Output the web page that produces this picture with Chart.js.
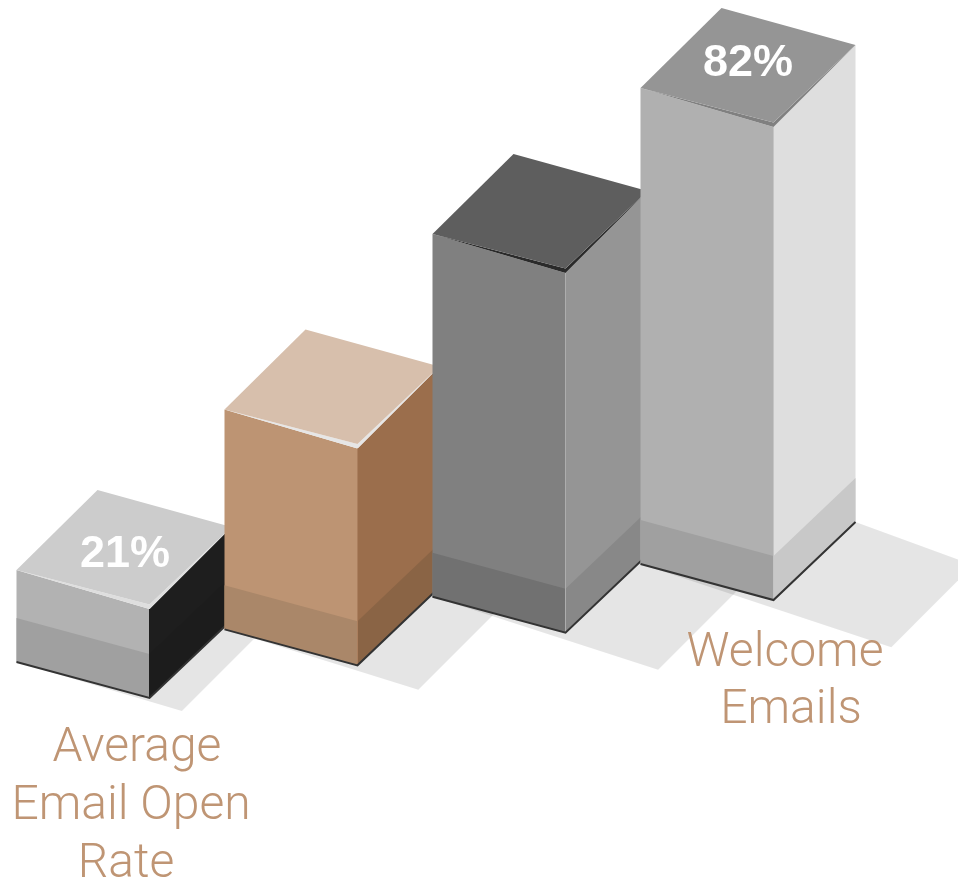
<!DOCTYPE html>
<html>
<head>
<meta charset="utf-8">
<title>Email rates</title>
<script src="https://cdn.jsdelivr.net/npm/chart.js@4"></script>
<style>
html,body{margin:0;padding:0;background:#fff;overflow:hidden}
#wrap{position:relative;width:958px;height:879px}
</style>
</head>
<body>
<div id="wrap"><canvas id="rateChart"></canvas></div>
<script>
const categories=[['Average','Email Open','Rate'],[''],[''],['Welcome','Emails']];
const rates=[21,41.3,64,82];
const showValue=[true,false,false,true];
const showCategory=[true,false,false,true];
const AXIS_MIN=6.86;

// face colours per bar
const topColors=['#cccccc','#d7bfac','#5e5e5e','#959595'];
const lipColors=['#dedede','#e6e6e6','#2a2a2a','#808080'];
const frontColors=['#b2b2b2','#bd9473','#808080','#b0b0b0'];
const frontBandColors=['#a0a0a0','#aa8769','#717171','#a0a0a0'];
const sideColors=['#1e1e1e','#9b6e4c','#959595','#dedede'];
const sideBandColors=['#1c1c1c','#8a6445','#888888','#c8c8c8'];
const seamColors=['#1e1e1e','#ab7f5e','#adadad','#c4c4c4'];

const GROUND_RISE=0.157;   // baseline climbs to the right
const BAND_H=44;
const LIP_H=4.5;

function poly(ctx,color,pts){
ctx.beginPath();
pts.forEach((p,i)=>i?ctx.lineTo(p[0],p[1]):ctx.moveTo(p[0],p[1]));
ctx.closePath();
ctx.fillStyle=color;
ctx.fill();
}

// turn a bar element into the corner points of its box
function boxOf(el,firstX){
const shift=(el.x-firstX)*GROUND_RISE;
const l=el.x-el.width/2,f=el.x+el.width/2,r=f+82;
const by=el.base-shift,ty=el.y-shift;
return{l,f,r,by,ty,
lb:[l,by-36],fb:[f,by],rb:[r,by-78],
lt:[l,ty-39],ft:[f,ty],rt:[r,ty-82],bt:[l+81,ty-39-80]};
}

// ground shadow, longer for taller bars
function drawShadow(ctx,b,value){
const dx=value*1.4+3,dy=dx*0.4;
const far=[b.fb[0]+dx,b.fb[1]+dy];
poly(ctx,'rgba(0,0,0,0.1)',[b.lb,far,[far[0]+82,far[1]-82],b.rb]);
}

function drawBox(ctx,b,i){
poly(ctx,frontColors[i],[b.lt,b.ft,b.fb,b.lb]);
poly(ctx,sideColors[i],[b.ft,b.rt,b.rb,b.fb]);
poly(ctx,frontBandColors[i],[[b.l,b.lb[1]-BAND_H],[b.f,b.by-BAND_H],b.fb,b.lb]);
poly(ctx,sideBandColors[i],[[b.f,b.by-BAND_H],[b.r,b.rb[1]-BAND_H],b.rb,b.fb]);
poly(ctx,lipColors[i],[b.lt,b.ft,b.rt,[b.f,b.ty-LIP_H]]);
poly(ctx,topColors[i],[b.lt,[b.f,b.ty-LIP_H],b.rt,b.bt]);
// corner seam
ctx.strokeStyle=seamColors[i];
ctx.lineWidth=1;
ctx.beginPath();ctx.moveTo(b.f,b.ty);ctx.lineTo(b.f,b.by);ctx.stroke();
// dark edge along the ground
ctx.strokeStyle='#333333';
ctx.lineWidth=2;
ctx.beginPath();ctx.moveTo(b.lb[0],b.lb[1]);ctx.lineTo(b.fb[0],b.fb[1]);ctx.lineTo(b.rb[0],b.rb[1]);ctx.stroke();
}

const isoBars={
id:'isoBars',
beforeDatasetDraw(chart,args){
const ctx=chart.ctx,els=args.meta.data,firstX=els[0].x;
const boxes=els.map(el=>boxOf(el,firstX));
ctx.save();
boxes.forEach((b,i)=>drawShadow(ctx,b,rates[i]));
boxes.forEach((b,i)=>drawBox(ctx,b,i));
// value on the top face
ctx.fillStyle='#ffffff';
ctx.font='bold 45px "Liberation Sans"';
ctx.textAlign='center';
ctx.textBaseline='middle';
const valueDx=[1,0,0,0],valueDy=[6,0,0,-3];
boxes.forEach((b,i)=>{
if(!showValue[i])return;
ctx.fillText(rates[i]+'%',(b.lt[0]+b.rt[0])/2+valueDx[i],(b.lt[1]+b.rt[1])/2+valueDy[i]);
});
// category names, one line at a time
ctx.fillStyle='#bf9574';
ctx.font='300 48px Roboto';
ctx.textBaseline='alphabetic';
const nameSpots=[[[137,761],[131,819],[126,877]],null,null,[[785,666],[791,723]]];
categories.forEach((lines,i)=>{
if(!showCategory[i])return;
lines.forEach((t,j)=>ctx.fillText(t,nameSpots[i][j][0],nameSpots[i][j][1]));
});
ctx.restore();
return false;
}
};

new Chart(document.getElementById('rateChart'),{
type:'bar',
data:{labels:categories,datasets:[{data:rates,base:AXIS_MIN,backgroundColor:frontColors,barThickness:133}]},
options:{
responsive:true,maintainAspectRatio:false,animation:false,
layout:{padding:{left:83,right:251,top:111.7,bottom:181}},
plugins:{legend:{display:false},tooltip:{enabled:false}},
scales:{
x:{display:false,offset:false},
y:{display:false,min:AXIS_MIN,max:100}
}
},
plugins:[isoBars]
});
</script>
</body>
</html>
